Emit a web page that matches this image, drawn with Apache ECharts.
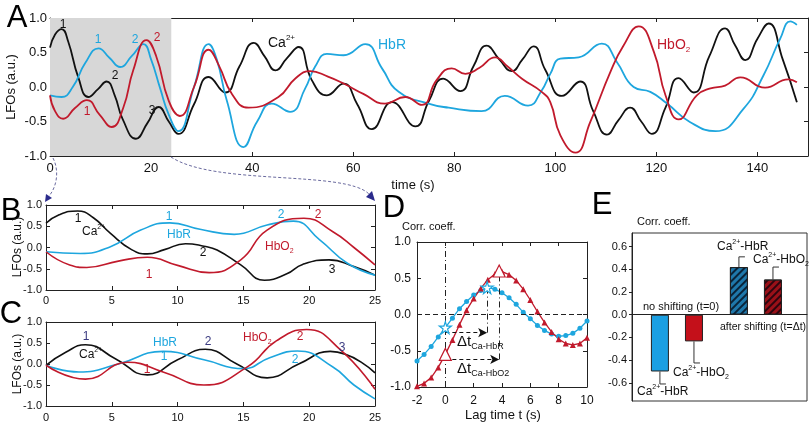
<!DOCTYPE html>
<html><head><meta charset="utf-8">
<script src="https://cdn.jsdelivr.net/npm/echarts@6/dist/echarts.min.js"></script>
<style>html,body{margin:0;padding:0;background:#fff}#c{width:810px;height:425px}</style>
</head><body><div id="c"></div>
<script>
// ---------- DATA ----------
// Panel A: full recording, [time (s), LFO (a.u.)]
const caA = [[0,0.57],[1,0.76],[2.3,0.84],[3.6,0.66],[5.6,0.14],[7.6,-0.145],[9.5,-0.03],[11.2,0.08],[12.8,-0.12],[14.4,-0.47],[17.0,-0.75],[19.3,-0.52],[21.5,-0.29],[23.5,-0.5],[25.4,-0.68],[28.5,-0.25],[31.4,0.145],[34.7,-0.08],[37.5,0.3],[40.3,0.64],[42.5,0.44],[44.6,0.24],[46.9,0.42],[49.2,0.58],[51.8,0.10],[54.8,-0.12],[58.1,0.05],[60.8,-0.25],[63.7,-0.61],[67.7,-0.22],[72.3,-0.57],[75,-0.2],[77.8,0.12],[81.2,-0.06],[83.8,0.3],[86.4,0.60],[88.9,0.4],[91.4,0.23],[93.5,0.4],[95.7,0.59],[98,0.25],[101.3,-0.13],[104.9,0.08],[107.5,-0.35],[110.2,-0.69],[112.5,-0.48],[114.8,-0.30],[117,-0.5],[119.1,-0.68],[121.8,-0.3],[124.4,0.13],[127.4,-0.08],[130.5,0.45],[133.6,0.85],[135.6,0.6],[137.6,0.39],[140,0.7],[142.2,0.92],[145,0.4],[147.8,-0.22]];
const hbrA = [[0,-0.12],[2.3,-0.145],[4.5,0.0],[7,0.35],[9.6,0.56],[11.8,0.42],[13.9,0.29],[16.2,0.45],[18.5,0.62],[20,0.4],[21.8,-0.02],[23.5,-0.4],[25.4,-0.64],[28.5,0.0],[31.4,0.62],[33,0.4],[35,-0.2],[38.3,-0.87],[41,-0.5],[43.9,-0.24],[47.5,-0.36],[50.5,-0.02],[52.5,0.3],[54.8,0.48],[58.1,0.46],[62.4,0.62],[65.7,0.27],[69,-0.07],[74.9,-0.24],[78.9,-0.30],[85.4,-0.35],[90,-0.13],[94.6,-0.27],[97.3,-0.05],[99,0.19],[101,0.41],[104.6,0.43],[109.2,0.63],[112.2,0.36],[115.5,0.0],[118.8,-0.07],[122.1,-0.24],[126.7,-0.51],[131.7,-0.64],[137.3,-0.31],[141.2,0.17],[144.5,0.70],[146.5,0.95],[147.8,0.90]];
const hbo2A = [[0,-0.12],[1,-0.35],[2.6,-0.46],[5,-0.3],[7.3,-0.19],[9.8,-0.4],[12.2,-0.58],[14.5,-0.3],[16.5,0.25],[19.1,0.68],[21,0.45],[23.5,-0.2],[25.7,-0.42],[28.5,0.0],[31.4,0.54],[33.5,0.3],[36,-0.1],[39.3,-0.30],[45.2,-0.145],[48.5,0.12],[51.5,0.23],[55,0.15],[58.1,0.05],[62,-0.1],[66.3,-0.24],[70.3,-0.145],[73.6,-0.26],[76.5,0.1],[79.5,0.27],[82.2,0.19],[85,0.28],[88.1,0.43],[90.5,0.3],[93.4,0.12],[97.3,-0.07],[99,-0.22],[101,-0.70],[104,-0.95],[106.9,-0.51],[110.9,0.22],[113.5,0.6],[116.5,0.88],[119.5,0.51],[121.8,-0.12],[124.4,-0.47],[128,-0.12],[130.7,-0.02],[133.6,0.02],[136.6,0.14],[141.5,-0.01],[146.1,0.11],[147.8,0.07]];
const shadeA = [0, 24];

// Panel B: first 25 s, raw
const caB = [[0,0.57],[1,0.77],[2.4,0.86],[3.6,0.7],[4.9,0.33],[6.5,-0.05],[7.7,-0.15],[9,-0.05],[10.6,0.09],[12,0.03],[13,-0.06],[14.8,-0.41],[16.6,-0.77],[18.3,-0.62],[19.5,-0.4],[21.5,-0.29],[23.4,-0.45],[25,-0.65]];
const hbrB = [[0,-0.10],[2.6,-0.14],[4.9,0.02],[7.2,0.41],[9.4,0.58],[11.7,0.43],[14.3,0.31],[16.8,0.53],[18.8,0.62],[20.8,0.18],[22.9,-0.37],[25,-0.65]];
const hbo2B = [[0,-0.10],[1.8,-0.41],[3.1,-0.47],[5.5,-0.32],[7.7,-0.23],[10,-0.42],[12.4,-0.59],[14.8,-0.29],[16.8,0.41],[19.6,0.69],[21.8,0.37],[23.4,0.0],[25,-0.41]];

// Panel C: first 25 s, shifted
const caC = [[0,-0.03],[1.5,0.28],[3.0,0.46],[5.3,0.12],[7.7,-0.26],[10,0.1],[12.1,0.35],[14.5,0.0],[16.8,-0.33],[19.2,0.0],[21.6,0.30],[25,-0.21]];
const hbrC = [[0,-0.03],[2.5,-0.19],[5.5,0.0],[8.9,0.30],[12,0.1],[15,-0.11],[17,0.15],[19.1,0.31],[21.8,-0.07],[23.4,-0.5],[25,-0.83]];
const hbo2C = [[0,-0.03],[3.0,-0.36],[6.2,0.04],[9,-0.2],[12,-0.50],[15.3,-0.07],[17.5,0.55],[19.8,0.82],[22.4,0.33],[25,-0.60]];

// Panel D: cross-correlation vs lag time
const lagTime = [-2,-1.5,-1,-0.5,0,0.5,1,1.5,2,2.5,3,3.5,4,4.5,5,5.5,6,6.5,7,7.5,8,8.5,9,9.5,10];
const corrHbR = [-0.64,-0.55,-0.44,-0.31,-0.18,-0.05,0.08,0.18,0.27,0.33,0.37,0.35,0.30,0.23,0.14,0.03,-0.06,-0.15,-0.22,-0.27,-0.30,-0.29,-0.26,-0.19,-0.09];
const corrHbO2 = [-0.99,-0.95,-0.87,-0.73,-0.55,-0.35,-0.14,0.06,0.22,0.36,0.48,0.56,0.59,0.55,0.47,0.35,0.20,0.04,-0.11,-0.24,-0.34,-0.40,-0.42,-0.40,-0.32];
const keyHbR = [[0,-0.18],[2.95,0.37]];     // t=0 and peak lag (Ca-HbR)
const keyHbO2 = [[0,-0.55],[3.8,0.60]];     // t=0 and peak lag (Ca-HbO2)
const deltaArrowY = [-0.25, -0.62];

// Panel E: correlation coefficients
const eGroups = ['no shifting (t=0)', 'after shifting (t=\u0394t)'];
const eHbR = [-0.50, 0.42];
const eHbRErr = [0.11, 0.09];
const eHbO2 = [-0.235, 0.31];
const eHbO2Err = [0.19, 0.11];
const eTicks = [-0.6,-0.4,-0.2,0,0.2,0.4,0.6];

// ---------- STYLE ----------
const FONT = '"Liberation Sans", Arial, Helvetica, sans-serif';
const K = '#111111', BLU = '#1ea6de', RED = '#c11a2c', NAVY = '#3a3a80';
const AX = '#222';

function xMain(gi, min, max, interval, fs, margin, extra) {
  return Object.assign({type:'value', gridIndex:gi, min, max, interval, position:'bottom',
    axisLine:{show:true, onZero:false, lineStyle:{color:AX, width:1}},
    axisTick:{show:true, inside:true, length:4, lineStyle:{color:AX}},
    axisLabel:{fontSize:fs, margin, color:'#111', fontFamily:FONT},
    splitLine:{show:false}}, extra || {});
}
function xMirror(gi, min, max, interval) {
  return {type:'value', gridIndex:gi, min, max, interval, position:'top',
    axisLine:{show:true, onZero:false, lineStyle:{color:AX, width:1}},
    axisTick:{show:true, inside:true, length:4, lineStyle:{color:AX}},
    axisLabel:{show:false}, splitLine:{show:false}};
}
function yMain(gi, fs, margin) {
  return {type:'value', gridIndex:gi, min:-1, max:1, interval:0.5, position:'left',
    axisLine:{show:true, onZero:false, lineStyle:{color:AX, width:1}},
    axisTick:{show:true, inside:true, length:4, lineStyle:{color:AX}},
    axisLabel:{fontSize:fs, margin, color:'#111', fontFamily:FONT, formatter:v => v.toFixed(1)},
    splitLine:{show:false}};
}
function yMirror(gi) {
  return {type:'value', gridIndex:gi, min:-1, max:1, interval:0.5, position:'right',
    axisLine:{show:true, onZero:false, lineStyle:{color:AX, width:1}},
    axisTick:{show:true, inside:true, length:4, lineStyle:{color:AX}},
    axisLabel:{show:false}, splitLine:{show:false}};
}
function line(xi, data, color, w, extra) {
  return Object.assign({type:'line', xAxisIndex:xi, yAxisIndex:xi, data, smooth:0.5,
    showSymbol:false, symbol:'none', lineStyle:{color, width:w}, itemStyle:{color}, silent:true, z:3}, extra || {});
}

// rich text helpers
function rt(parts, size, color) {
  const rich = {
    a:{fontSize:size, fontFamily:FONT, fill:color, lineHeight:size+4},
    s:{fontSize:Math.round(size*0.55), fontFamily:FONT, fill:color, verticalAlign:'top', lineHeight:Math.round(size*0.6)},
    b:{fontSize:Math.round(size*0.6), fontFamily:FONT, fill:color, verticalAlign:'bottom', lineHeight:Math.round(size*0.7)}
  };
  return {text: parts.map(p => '{' + p[0] + '|' + p[1] + '}').join(''), rich};
}
function T(x, y, text, size, color, extra) {
  const st = Object.assign({text, fill:color, font: size + 'px ' + FONT, textAlign:'center', textVerticalAlign:'middle'}, extra || {});
  return {type:'text', x, y, z:100, silent:true, style:st};
}
function R(x, y, parts, size, color, align) {
  const r = rt(parts, size, color);
  return {type:'text', x, y, z:100, silent:true, style:{text:r.text, rich:r.rich, fill:color, font:size+'px '+FONT, textAlign:align||'left', textVerticalAlign:'middle'}};
}
const CA = [['a','Ca'],['s','2+']];
const HBO2 = [['a','HbO'],['b','2']];

// ---------- E positions (layout) ----------
const eX = (g, s) => 1 + g * 2.32 + s;
const barItems = [];
const errItems = [];
eGroups.forEach((g, gi) => {
  const hatched = gi === 1;
  const dec = hatched ? {symbol:'rect', symbolSize:1, dashArrayX:[1,0], dashArrayY:[1.5,2.2], rotation:-Math.PI/4, color:'rgba(0,0,10,0.7)'} : null;
  barItems.push({value:[eX(gi,0), eHbR[gi]], itemStyle:{color: hatched ? '#1f78ab' : '#1a9fe2', borderColor:'#222', borderWidth:1, decal:dec}});
  barItems.push({value:[eX(gi,1), eHbO2[gi]], itemStyle:{color: hatched ? '#9a1018' : '#c4101a', borderColor:'#222', borderWidth:1, decal:dec}});
  errItems.push([eX(gi,0), eHbR[gi], eHbRErr[gi]]);
  errItems.push([eX(gi,1), eHbO2[gi], eHbO2Err[gi]]);
});

const starPath = 'path://M50,2 L61,37 L98,37 L68,59 L79,95 L50,73 L21,95 L32,59 L2,37 L39,37 Z';
const dashDot = [6,3,1,3];

const option = {
  animation:false,
  backgroundColor:'#fff',
  textStyle:{fontFamily:FONT},
  grid:[
    {left:50, top:18, width:758, height:138},
    {left:46, top:205, width:329, height:85},
    {left:46, top:322, width:329, height:84},
    {left:417, top:242, width:170, height:145},
    {left:632, top:233, width:175, height:168, show:true, borderColor:'#333', borderWidth:1}
  ],
  xAxis:[
    xMain(0, 0, 150, 20, 13, 6, {axisLabel:{fontSize:13, margin:6, color:'#111', fontFamily:FONT, showMaxLabel:false}}),
    xMirror(0, 0, 150, 20),
    xMain(1, 0, 25, 5, 11, 5),
    xMirror(1, 0, 25, 5),
    xMain(2, 0, 25, 5, 11, 6),
    xMirror(2, 0, 25, 5),
    xMain(3, -2, 10, 2, 12, 8),
    xMirror(3, -2, 10, 2),
    {type:'value', gridIndex:4, min:0.18, max:5.32, axisLine:{show:true, onZero:true, lineStyle:{color:AX, width:1}},
      axisTick:{show:false}, axisLabel:{show:false}, splitLine:{show:false}}
  ],
  yAxis:[
    yMain(0, 13, 3), yMirror(0),
    yMain(1, 11, 4), yMirror(1),
    yMain(2, 11, 4), yMirror(2),
    yMain(3, 12, 6), yMirror(3),
    {type:'value', gridIndex:4, min:-0.76, max:0.72, position:'left',
      axisLine:{show:true, onZero:false, lineStyle:{color:AX, width:1}},
      axisTick:{show:true, inside:false, length:3, customValues:eTicks, lineStyle:{color:AX}},
      axisLabel:{fontSize:11, margin:5, color:'#111', fontFamily:FONT, customValues:eTicks, formatter:v => v.toFixed(1)},
      splitLine:{show:false}}
  ],
  series:[
    // Panel A
    line(0, caA, K, 1.8, {markArea:{silent:true, itemStyle:{color:'#d7d7d7'}, data:[[{xAxis:shadeA[0]},{xAxis:shadeA[1]}]]}, z:2}),
    line(0, hbrA, BLU, 1.8),
    line(0, hbo2A, RED, 1.8),
    // Panel B
    line(2, caB, K, 1.6),
    line(2, hbrB, BLU, 1.6),
    line(2, hbo2B, RED, 1.6),
    // Panel C
    line(4, caC, K, 1.6),
    line(4, hbrC, BLU, 1.6),
    line(4, hbo2C, RED, 1.6),
    // Panel D
    {type:'line', xAxisIndex:6, yAxisIndex:6, data: lagTime.map((t,i) => [t, corrHbR[i]]),
      symbol:'circle', symbolSize:5, showSymbol:true, lineStyle:{color:BLU, width:1.3}, itemStyle:{color:BLU}, silent:true, z:3,
      markLine:{silent:true, symbol:['none','none'], label:{show:false}, lineStyle:{color:'#222', width:1},
        data:[
          {xAxis:0, lineStyle:{type:dashDot, color:'#222', width:1}},
          {yAxis:0, lineStyle:{type:[5,3], color:'#222', width:1}},
          [{coord:[keyHbR[1][0], deltaArrowY[0]], lineStyle:{type:dashDot, color:'#222', width:1}}, {coord:keyHbR[1]}],
          [{coord:[keyHbO2[1][0], deltaArrowY[1]], lineStyle:{type:dashDot, color:'#222', width:1}}, {coord:keyHbO2[1]}],
          [{coord:[0, deltaArrowY[0]], symbol:'none', lineStyle:{type:[4,3], color:'#111', width:1.2}}, {coord:[keyHbR[1][0], deltaArrowY[0]], symbol:'arrow', symbolSize:[7,9]}],
          [{coord:[0, deltaArrowY[1]], symbol:'none', lineStyle:{type:[4,3], color:'#111', width:1.2}}, {coord:[keyHbO2[1][0], deltaArrowY[1]], symbol:'arrow', symbolSize:[7,9]}]
        ]}},
    {type:'line', xAxisIndex:6, yAxisIndex:6, data: lagTime.map((t,i) => [t, corrHbO2[i]]),
      symbol:'triangle', symbolSize:6, showSymbol:true, lineStyle:{color:RED, width:1.3}, itemStyle:{color:RED}, silent:true, z:3},
    {type:'scatter', xAxisIndex:6, yAxisIndex:6, data:keyHbR, symbol:starPath, symbolSize:12,
      itemStyle:{color:'#fff', opacity:1, borderColor:BLU, borderWidth:1.2}, silent:true, z:5},
    {type:'scatter', xAxisIndex:6, yAxisIndex:6, data:keyHbO2, symbol:'triangle', symbolSize:12,
      itemStyle:{color:'#fff', opacity:1, borderColor:RED, borderWidth:1.2}, silent:true, z:5},
    // Panel E
    {type:'bar', xAxisIndex:8, yAxisIndex:8, data:barItems, barWidth:18, silent:true, z:2},
    {type:'custom', xAxisIndex:8, yAxisIndex:8, data:errItems, silent:true, z:3,
      renderItem:function(params, api){
        const x = api.value(0), v = api.value(1), e = api.value(2);
        const end = v + (v >= 0 ? e : -e);
        const p0 = api.coord([x, v]), p1 = api.coord([x, end]);
        return {type:'group', children:[
          {type:'line', shape:{x1:p0[0], y1:p0[1], x2:p1[0], y2:p1[1]}, style:{stroke:'#333', lineWidth:1}},
          {type:'line', shape:{x1:p1[0], y1:p1[1], x2:p1[0]+6, y2:p1[1]}, style:{stroke:'#333', lineWidth:1}}
        ]};
      }}
  ],
  graphic:{elements:[
    // panel letters
    T(17, 18.5, 'A', 31, '#000'),
    T(11, 211, 'B', 31, '#000'),
    T(11, 314, 'C', 31, '#000'),
    T(394, 208, 'D', 31, '#000'),
    T(602, 205, 'E', 31, '#000'),
    // y axis names
    T(11, 87, 'LFOs (a.u.)', 13, '#111', {}),
    T(18, 247, 'LFOs (a.u.)', 12, '#111'),
    T(18, 364, 'LFOs (a.u.)', 12, '#111'),
    T(413, 185, 'time (s)', 13, '#111'),
    T(503, 415, 'Lag time t (s)', 13, '#111'),
    T(402, 227, 'Corr. coeff.', 11, '#111', {textAlign:'left'}),
    T(637, 222, 'Corr. coeff.', 11, '#111', {textAlign:'left'}),
    // Panel A labels
    T(63, 25, '1', 12, K), T(98, 40, '1', 12, BLU), T(135, 40, '2', 12, BLU), T(157, 38, '2', 12, RED),
    T(115, 76, '2', 12, K), T(87, 112, '1', 12, RED), T(152, 111, '3', 12, K),
    R(268, 43, CA, 14, K), T(378, 45, 'HbR', 14, BLU, {textAlign:'left'}), R(657, 45, HBO2, 14, RED),
    // Panel B labels
    T(78, 219, '1', 12, K), R(82, 232, CA, 12, K), T(169, 217, '1', 12, BLU), T(167, 235, 'HbR', 12, BLU, {textAlign:'left'}),
    T(203, 253, '2', 12, K), T(149, 275, '1', 12, RED), R(265, 247, HBO2, 12, RED),
    T(281, 215, '2', 12, BLU), T(318, 215, '2', 12, RED), T(332, 270, '3', 12, K),
    // Panel C labels
    T(86, 337, '1', 12, NAVY), R(79, 355, CA, 12, K), T(153, 343, 'HbR', 12, BLU, {textAlign:'left'}),
    T(164, 357, '1', 12, BLU), T(147, 370, '1', 12, RED), T(208, 342, '2', 12, NAVY),
    R(243, 338, HBO2, 12, RED), T(300, 337, '2', 12, RED), T(342, 348, '3', 12, NAVY), T(295, 360, '2', 12, BLU),
    // Panel D labels
    R(457, 342, [['a','\u0394t'],['b','Ca-HbR']], 15, '#111'),
    R(457, 369, [['a','\u0394t'],['b','Ca-HbO'],['b','2']], 15, '#111'),
    // Panel E labels
    T(643, 307, eGroups[0], 11, '#111', {textAlign:'left'}),
    T(720, 327, eGroups[1], 10.5, '#111', {textAlign:'left'}),
    R(717, 247, CA.concat([['a','-HbR']]), 12, '#111'),
    R(753, 260, CA.concat([['a','-HbO'],['b','2']]), 12, '#111'),
    R(673, 373, CA.concat([['a','-HbO'],['b','2']]), 12, '#111'),
    R(637, 392, CA.concat([['a','-HbR']]), 12, '#111'),
    // connector arrows A -> B
    {type:'bezierCurve', z:90, silent:true, shape:{x1:53, y1:158, cpx1:60, cpy1:172, cpx2:56, cpy2:188, x2:49, y2:196},
      style:{stroke:'#6b6b9f', lineWidth:1, lineDash:[3,2], fill:null}},
    {type:'polygon', z:90, silent:true, shape:{points:[[45,202],[46,194],[52,198]]}, style:{fill:'#2b2b8c'}},
    {type:'bezierCurve', z:90, silent:true, shape:{x1:171, y1:157, cpx1:215, cpy1:186, cpx2:345, cpy2:170, x2:369, y2:194},
      style:{stroke:'#6b6b9f', lineWidth:1, lineDash:[3,2], fill:null}},
    {type:'polygon', z:90, silent:true, shape:{points:[[375,201],[366,197],[372,191]]}, style:{fill:'#2b2b8c'}}
  ]}
};
// rotate y-axis name texts
option.graphic.elements[5].rotation = Math.PI/2;
option.graphic.elements[6].rotation = Math.PI/2;
option.graphic.elements[7].rotation = Math.PI/2;

const chart = echarts.init(document.getElementById('c'), null, {renderer:'canvas'});
chart.setOption(option);
</script></body></html>
